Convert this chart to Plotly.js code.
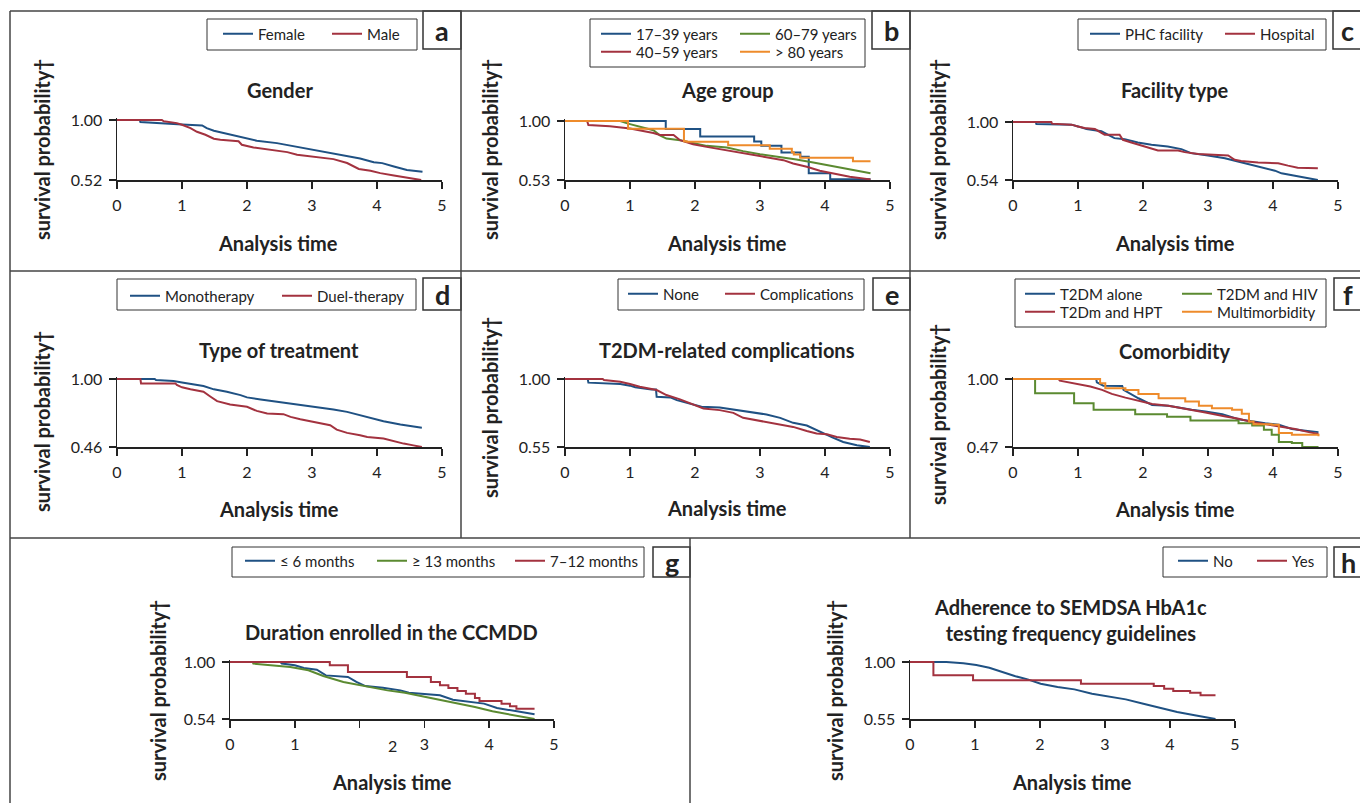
<!DOCTYPE html>
<html><head><meta charset="utf-8">
<script src="https://cdn.plot.ly/plotly-3.0.1.min.js"></script>
<style>html,body{margin:0;padding:0;background:#fff}#chart{width:1360px;height:803px}</style>
</head><body><div id="chart"></div>
<script>
// ---------------- DATA ----------------
// a: Gender
const femaleT = [0,0.35,0.36,0.8,1.0,1.31,1.38,1.49,1.74,2.0,2.15,2.46,2.62,2.77,3.0,3.23,3.49,3.74,3.95,4.08,4.26,4.46,4.7];
const femaleS = [1,1,0.984,0.975,0.965,0.957,0.935,0.914,0.885,0.856,0.834,0.815,0.80,0.781,0.762,0.743,0.713,0.692,0.662,0.655,0.628,0.60,0.586];
const maleT = [0,0.69,0.72,0.92,1.0,1.13,1.23,1.36,1.49,1.59,1.87,1.92,2.1,2.36,2.62,2.77,3.08,3.33,3.54,3.72,3.9,4.05,4.26,4.46,4.68];
const maleS = [1,1,0.99,0.975,0.962,0.935,0.906,0.882,0.85,0.842,0.83,0.802,0.78,0.762,0.743,0.722,0.703,0.687,0.656,0.608,0.594,0.575,0.556,0.54,0.52];
// b: Age group
const age1739T = [0,1.55,2.08,2.91,3.02,3.33,3.62,3.75,4.08,4.7];
const age1739S = [1,0.937,0.876,0.836,0.802,0.749,0.715,0.583,0.535,0.535];
const age4059T = [0,0.34,0.36,0.69,1.0,1.13,1.36,1.46,1.67,1.77,1.97,2.18,2.38,2.64,2.9,3.15,3.36,3.51,3.72,3.92,4.13,4.38,4.7];
const age4059S = [1,1,0.968,0.958,0.94,0.929,0.905,0.889,0.889,0.847,0.815,0.794,0.776,0.752,0.728,0.71,0.688,0.662,0.636,0.604,0.583,0.556,0.535];
const age6079T = [0,0.85,0.97,1.15,1.36,1.46,1.56,1.77,1.97,2.18,2.49,2.74,3.0,3.31,3.56,3.82,4.08,4.33,4.7];
const age6079S = [1,1,0.979,0.952,0.926,0.886,0.86,0.847,0.826,0.802,0.789,0.76,0.736,0.715,0.694,0.67,0.644,0.622,0.583];
const age80T = [0,0.97,1.83,1.87,2.51,3.15,3.49,3.52,3.62,4.43,4.7];
const age80S = [1,0.939,0.839,0.834,0.807,0.778,0.752,0.733,0.707,0.68,0.68];
// c: Facility type
const phcT = [0,0.35,0.36,0.9,1.0,1.13,1.36,1.46,1.56,1.72,1.92,2.13,2.38,2.59,2.74,3.0,3.26,3.46,3.67,3.87,4.03,4.13,4.33,4.49,4.69];
const phcS = [1,1,0.984,0.979,0.965,0.944,0.926,0.899,0.872,0.864,0.838,0.819,0.806,0.785,0.753,0.734,0.713,0.686,0.66,0.633,0.614,0.593,0.574,0.559,0.54];
const hospT = [0,0.59,0.6,0.9,1.0,1.1,1.26,1.41,1.64,1.69,1.82,2.03,2.23,2.54,2.64,2.85,3.1,3.31,3.41,3.51,3.77,4.08,4.23,4.38,4.69];
const hospS = [1,1,0.987,0.979,0.965,0.952,0.944,0.899,0.899,0.859,0.838,0.806,0.774,0.774,0.761,0.747,0.739,0.734,0.70,0.691,0.678,0.673,0.654,0.638,0.633];
// d: Type of treatment
const monoT = [0,0.58,0.6,0.87,1.0,1.13,1.33,1.49,1.69,1.9,2.0,2.21,2.41,2.62,2.82,3.08,3.33,3.54,3.69,3.9,4.1,4.36,4.51,4.69];
const monoS = [1,1,0.992,0.984,0.973,0.96,0.944,0.918,0.899,0.872,0.854,0.838,0.824,0.811,0.793,0.779,0.758,0.739,0.718,0.691,0.665,0.638,0.628,0.612];
const duelT = [0,0.36,0.37,0.9,0.92,1.0,1.13,1.33,1.44,1.54,1.74,2.0,2.15,2.31,2.56,2.67,2.82,3.03,3.28,3.38,3.54,3.74,3.85,4.1,4.26,4.41,4.56,4.69];
const duelS = [1,1,0.965,0.965,0.952,0.934,0.918,0.899,0.859,0.824,0.798,0.779,0.747,0.726,0.721,0.699,0.681,0.66,0.633,0.598,0.572,0.553,0.54,0.527,0.505,0.487,0.473,0.46];
// e: T2DM-related complications
const noneT = [0,0.35,0.36,0.85,1.0,1.08,1.33,1.4,1.41,1.62,1.72,1.97,2.1,2.38,2.59,2.79,3.1,3.31,3.51,3.72,3.92,4.03,4.13,4.28,4.49,4.69];
const noneS = [1,1,0.976,0.967,0.956,0.945,0.931,0.931,0.882,0.878,0.86,0.834,0.816,0.812,0.798,0.783,0.765,0.743,0.71,0.692,0.65,0.632,0.61,0.583,0.561,0.55];
const complT = [0,0.58,0.6,0.85,1.0,1.15,1.41,1.56,1.77,1.97,2.13,2.38,2.59,2.74,3.0,3.26,3.51,3.72,3.87,4.03,4.18,4.38,4.54,4.69];
const complS = [1,1,0.993,0.982,0.967,0.949,0.927,0.894,0.865,0.834,0.805,0.794,0.776,0.743,0.723,0.701,0.683,0.656,0.639,0.634,0.616,0.605,0.599,0.583];
// f: Comorbidity
const aloneT = [0,1.28,1.29,1.39,1.68,1.7,1.93,2.14,2.39,2.6,2.75,2.96,3.22,3.47,3.68,3.88,4.09,4.29,4.5,4.7];
const aloneS = [1,1,0.974,0.948,0.946,0.915,0.85,0.798,0.791,0.772,0.76,0.747,0.726,0.687,0.669,0.656,0.643,0.61,0.597,0.586];
const hptT = [0,0.7,0.72,0.96,1.19,1.37,1.52,1.73,1.93,2.14,2.39,2.7,2.96,3.27,3.47,3.68,3.88,4.14,4.34,4.55,4.7];
const hptS = [1,1,0.987,0.966,0.941,0.915,0.884,0.855,0.829,0.806,0.791,0.765,0.739,0.708,0.69,0.664,0.648,0.63,0.61,0.586,0.571];
const hivT = [0,0.34,0.94,1.24,1.88,2.37,2.73,3.47,3.68,3.86,3.98,4.09,4.29,4.45,4.7];
const hivS = [1,0.889,0.811,0.76,0.726,0.705,0.677,0.656,0.638,0.604,0.566,0.509,0.501,0.47,0.47];
const multiT = [0,1.34,1.42,1.73,1.93,2.24,2.65,2.86,3.06,3.37,3.52,3.63,3.7,3.98,4.09,4.29,4.7];
const multiS = [1,0.966,0.928,0.915,0.884,0.85,0.824,0.791,0.772,0.76,0.729,0.669,0.648,0.643,0.579,0.566,0.553];
// g: Duration enrolled in the CCMDD
const le6T = [0,0.78,0.8,1.0,1.14,1.34,1.48,1.82,1.95,2.09,2.36,2.63,2.76,3.04,3.24,3.44,3.64,3.92,4.12,4.32,4.53,4.7];
const le6S = [1,1,0.987,0.973,0.952,0.938,0.892,0.879,0.839,0.806,0.793,0.771,0.752,0.739,0.731,0.696,0.685,0.664,0.629,0.61,0.596,0.578];
const ge13T = [0,0.35,0.36,0.66,0.93,1.21,1.44,1.75,2.09,2.43,2.7,2.97,3.24,3.51,3.78,4.05,4.32,4.7];
const ge13S = [1,1,0.987,0.973,0.96,0.933,0.887,0.839,0.806,0.771,0.752,0.723,0.696,0.669,0.637,0.602,0.575,0.54];
const m712T = [0,1.54,1.82,2.73,3.1,3.24,3.37,3.51,3.64,3.78,3.85,4.19,4.32,4.42,4.7];
const m712S = [1,0.973,0.919,0.879,0.839,0.812,0.79,0.766,0.744,0.709,0.685,0.664,0.642,0.623,0.623];
// h: Adherence to SEMDSA HbA1c testing frequency guidelines
const noT = [0,0.56,0.82,1.02,1.22,1.41,1.61,1.81,2.01,2.27,2.53,2.8,3.06,3.32,3.59,3.85,4.11,4.38,4.7];
const noS = [1,1,0.99,0.976,0.955,0.921,0.889,0.863,0.829,0.803,0.784,0.75,0.729,0.705,0.671,0.637,0.605,0.579,0.55];
const yesT = [0,0.36,0.97,2.63,3.75,3.91,4.05,4.31,4.47,4.7];
const yesS = [1,0.895,0.855,0.829,0.811,0.789,0.771,0.758,0.737,0.737];

// axis labels
const xTickVals = [0,1,2,3,4,5];
const xTickText = ['0','1','2','3','4','5'];
const yMins = [0.52,0.53,0.54,0.46,0.55,0.47,0.54,0.55];
const panelTitles = ['Gender','Age group','Facility type','Type of treatment','T2DM-related complications','Comorbidity','Duration enrolled in the CCMDD','Adherence to SEMDSA HbA1c<br>testing frequency guidelines'];
const panelLetters = ['a','b','c','d','e','f','g','h'];
const xTitle = 'Analysis time';
const yTitle = 'survival probability†';

// ---------------- STYLE / LAYOUT ----------------
const W = 1360, H = 803;
const px = v => v / W, py = v => 1 - v / H;
const BLUE = '#1f5183', RED = '#a3323f', GREEN = '#5b8a31', ORANGE = '#ee8b2b';
const INK = '#222';
const FONT = 'Lato, "Open Sans", sans-serif';

// plot-area geometry (pixels): x of 0 and 5, y of 1.00 and of the minimum
const geo = [
  {x0:117, x1:442, yTop:120, yBot:180},
  {x0:565, x1:890, yTop:121, yBot:180},
  {x0:1013,x1:1338,yTop:122, yBot:180},
  {x0:117, x1:442, yTop:379, yBot:447},
  {x0:565, x1:890, yTop:379, yBot:447},
  {x0:1013,x1:1338,yTop:379, yBot:447},
  {x0:230, x1:554, yTop:662, yBot:719},
  {x0:910, x1:1235,yTop:662, yBot:719}
];
const titlePos = [[280,90],[727,90],[1175,90],[279,350],[727,350],[1175,351],[392,632],[1070,620]];
const xTitlePos = [[278,243],[727,243],[1175,243],[279,509],[727,508],[1175,509],[392,782],[1072,782]];
const yTitlePos = [[42,150],[490,150],[938,150],[42,422],[490,408],[938,415],[158,691],[835,691]];
const letterBox = [[423,461,11,49],[872,910,11,49],[1333,1362,11,49],[423,461,278,310],[873,910,278,310],[1334,1362,278,310],[653,690,547,577],[1334,1362,547,577]];
const legendBox = [[207,417,19,50],[590,865,19,67],[1078,1326,19,50],[117,416,279,310],[618,864,279,310],[1015,1326,279,327],[232,644,547,577],[1163,1327,547,577]];

// series: panel, legend id, entry width
const series = [
  {p:0, name:'Female', t:femaleT, s:femaleS, c:BLUE, shape:'linear', lg:'legend', lw:64},
  {p:0, name:'Male', t:maleT, s:maleS, c:RED, shape:'linear', lg:'legend'},
  {p:1, name:'17–39 years', t:age1739T, s:age1739S, c:BLUE, shape:'hv', lg:'legend2', lw:94},
  {p:1, name:'60–79 years', t:age6079T, s:age6079S, c:GREEN, shape:'linear', lg:'legend2'},
  {p:1, name:'40–59 years', t:age4059T, s:age4059S, c:RED, shape:'linear', lg:'legend3', lw:94},
  {p:1, name:'> 80 years', t:age80T, s:age80S, c:ORANGE, shape:'hv', lg:'legend3'},
  {p:2, name:'PHC facility', t:phcT, s:phcS, c:BLUE, shape:'linear', lg:'legend4', lw:90},
  {p:2, name:'Hospital', t:hospT, s:hospS, c:RED, shape:'linear', lg:'legend4'},
  {p:3, name:'Monotherapy', t:monoT, s:monoS, c:BLUE, shape:'linear', lg:'legend5', lw:107},
  {p:3, name:'Duel-therapy', t:duelT, s:duelS, c:RED, shape:'linear', lg:'legend5'},
  {p:4, name:'None', t:noneT, s:noneS, c:BLUE, shape:'linear', lg:'legend6', lw:52},
  {p:4, name:'Complications', t:complT, s:complS, c:RED, shape:'linear', lg:'legend6'},
  {p:5, name:'T2DM alone', t:aloneT, s:aloneS, c:BLUE, shape:'linear', lg:'legend7', lw:112},
  {p:5, name:'T2DM and HIV', t:hivT, s:hivS, c:GREEN, shape:'hv', lg:'legend7'},
  {p:5, name:'T2Dm and HPT', t:hptT, s:hptS, c:RED, shape:'linear', lg:'legend8', lw:112},
  {p:5, name:'Multimorbidity', t:multiT, s:multiS, c:ORANGE, shape:'hv', lg:'legend8'},
  {p:6, name:'≤ 6 months', t:le6T, s:le6S, c:BLUE, shape:'linear', lg:'legend9', lw:87},
  {p:6, name:'≥ 13 months', t:ge13T, s:ge13S, c:GREEN, shape:'linear', lg:'legend9', lw:93},
  {p:6, name:'7–12 months', t:m712T, s:m712S, c:RED, shape:'hv', lg:'legend9'},
  {p:7, name:'No', t:noT, s:noS, c:BLUE, shape:'linear', lg:'legend10', lw:34},
  {p:7, name:'Yes', t:yesT, s:yesS, c:RED, shape:'hv', lg:'legend10'}
];
// legend anchor (left x of first line, centre y of row)
const legendPos = {legend:[218,34], legend2:[596,34], legend3:[596,52], legend4:[1085,34], legend5:[125,296],
  legend6:[623,294], legend7:[1020,294], legend8:[1020,312], legend9:[240,561], legend10:[1173,561]};

const traces = series.map(d => {
  const tr = {
    type:'scatter', mode:'lines', name:d.name, x:d.t, y:d.s,
    xaxis:'x'+(d.p ? d.p+1 : ''), yaxis:'y'+(d.p ? d.p+1 : ''),
    line:{color:d.c, width:2, shape:d.shape}, legend:d.lg, hoverinfo:'skip'
  };
  if (d.lw) tr.legendwidth = d.lw;
  return tr;
});

const layout = {
  width:W, height:H, margin:{l:0,r:0,t:0,b:0,pad:0},
  paper_bgcolor:'#fff', plot_bgcolor:'rgba(0,0,0,0)',
  font:{family:FONT, color:INK, size:15},
  shapes:[], annotations:[]
};

const PAD = 2;
geo.forEach((g, i) => {
  const sfx = i ? String(i+1) : '';
  const ymin = yMins[i];
  const topExtra = PAD * (1 - ymin) / (g.yBot - g.yTop);
  const gTickText = (i === 6) ? ['0','1','','3','4','5'] : xTickText;
  layout['xaxis'+sfx] = {
    domain:[px(g.x0), px(g.x1)], range:[0,5], anchor:'y'+sfx,
    tickvals:xTickVals, ticktext:gTickText,
    showline:true, linecolor:INK, linewidth:1.5, ticks:'outside', ticklen:7, tickwidth:1.5, tickcolor:INK,
    showgrid:false, zeroline:false, fixedrange:true, ticklabelstandoff:3,
    tickfont:{family:FONT, size:16, color:INK}
  };
  layout['yaxis'+sfx] = {
    domain:[py(g.yBot), py(g.yTop - PAD)], range:[ymin, 1 + topExtra], anchor:'x'+sfx,
    tickvals:[ymin, 1], ticktext:[ymin.toFixed(2), '1.00'],
    showline:true, linecolor:INK, linewidth:1.5, ticks:'outside', ticklen:7, tickwidth:1.5, tickcolor:INK,
    showgrid:false, zeroline:false, fixedrange:true, ticklabelstandoff:3,
    tickfont:{family:FONT, size:16, color:INK}
  };
  // panel title
  layout.annotations.push({xref:'paper', yref:'paper', x:px(titlePos[i][0]), y:py(titlePos[i][1]),
    text:panelTitles[i], showarrow:false, xanchor:'center', yanchor:'middle',
    font:{family:FONT, size:20, color:INK, weight:'bold'}});
  layout.annotations.push({xref:'paper', yref:'paper', x:px(xTitlePos[i][0]), y:py(xTitlePos[i][1]),
    text:xTitle, showarrow:false, xanchor:'center', yanchor:'middle',
    font:{family:FONT, size:20, color:INK, weight:'bold'}});
  layout.annotations.push({xref:'paper', yref:'paper', x:px(yTitlePos[i][0]), y:py(yTitlePos[i][1]),
    text:yTitle, textangle:-90, showarrow:false, xanchor:'center', yanchor:'middle',
    font:{family:FONT, size:20, color:INK, weight:'bold'}});
  // letter box + letter
  const lb = letterBox[i];
  layout.shapes.push({type:'rect', xref:'paper', yref:'paper', x0:px(lb[0]), x1:px(lb[1]), y0:py(lb[3]), y1:py(lb[2]),
    line:{color:'#333', width:1.5}, fillcolor:'#fff', layer:'below'});
  layout.annotations.push({xref:'paper', yref:'paper', x:px((lb[0]+lb[1])/2), y:py((lb[2]+lb[3])/2),
    text:panelLetters[i], showarrow:false, xanchor:'center', yanchor:'middle',
    font:{family:FONT, size:27, color:INK, weight:'bold'}});
  // legend box
  const gb = legendBox[i];
  layout.shapes.push({type:'rect', xref:'paper', yref:'paper', x0:px(gb[0]), x1:px(gb[1]), y0:py(gb[3]), y1:py(gb[2]),
    line:{color:'#333', width:1}, fillcolor:'rgba(0,0,0,0)', layer:'below'});
});

// misplaced "2" tick label on panel g, as printed in the reference
layout.annotations.push({xref:'x7', yref:'paper', x:2.5, y:py(745), text:'2', showarrow:false,
  xanchor:'center', yanchor:'middle', font:{family:FONT, size:16, color:INK}});

// panel frame lines
const frame = [
  [10,11,1360,11],[10,11,10,803],[10,271,1360,271],[10,538,1360,538],
  [461,11,461,538],[910,11,910,538],[690,538,690,803]
];
frame.forEach(f => layout.shapes.push({type:'line', xref:'paper', yref:'paper',
  x0:px(f[0]), y0:py(f[1]), x1:px(f[2]), y1:py(f[3]), line:{color:'#444', width:1.5}, layer:'below'}));

// legends
Object.keys(legendPos).forEach(k => {
  const p = legendPos[k];
  layout[k] = {x:px(p[0]), y:py(p[1]), xanchor:'left', yanchor:'middle', orientation:'h',
    bgcolor:'rgba(0,0,0,0)', borderwidth:0, font:{family:FONT, size:15, color:INK},
    traceorder:'normal', itemclick:false, itemdoubleclick:false, tracegroupgap:0};
});

Plotly.newPlot('chart', traces, layout, {displayModeBar:false, staticPlot:true});
</script></body></html>
